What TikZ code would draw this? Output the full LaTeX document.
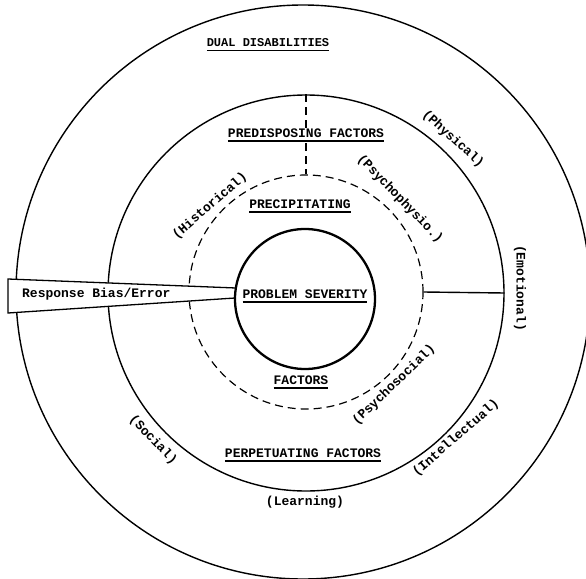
\documentclass[tikz,border=0pt]{standalone}
\usepackage{fontspec}
\setmonofont{Liberation Mono}
\newcommand\ulx[1]{\setbox0=\hbox{#1}\copy0\llap{\rule[-4.5pt]{\wd0}{1.6pt}}}
\tikzset{
  lbl/.style={font=\ttfamily\bfseries\fontsize{13}{15}\selectfont, inner sep=1pt},
  head/.style={lbl, anchor=base},
  ring/.style={circle, draw, line width=1.4pt, inner sep=0pt},
  dring/.style={circle, draw, line width=1.2pt, inner sep=0pt, dash pattern=on 8pt off 5pt},
}
\begin{document}
\begin{tikzpicture}[x=1pt,y=1pt]
\useasboundingbox (0,0) rectangle (586,-578);
\clip (0,0) rectangle (586,-578);
% rings
\node[ring, minimum size=574pt] (outer) at (303,-292) {};
\node[ring, minimum size=396pt] (mid) at (306,-293) {};
\node[dring, minimum size=234pt] (dash) at (306,-292) {};
% labels
\node[head, font=\ttfamily\bfseries\fontsize{12}{14}\selectfont] (dual) at (268,-47) {\ulx{DUAL DISABILITIES}};
\node[head] (pred) at (306,-137.5) {\ulx{PREDISPOSING FACTORS}};
\node[head] (prec) at (300,-208.5) {\ulx{PRECIPITATING}};
\node[head] (fact) at (301,-384.5) {\ulx{FACTORS}};
\node[head] (perp) at (303,-457.5) {\ulx{PERPETUATING FACTORS}};
\node[lbl] (learn) at (305,-502) {(Learning)};
\node[lbl, rotate=-42] (phys) at (453,-139) {(Physical)};
\node[lbl, rotate=-46] (psyph) at (400,-199) {(Psychophysio.)};
\node[lbl, rotate=41] (hist) at (210,-206) {(Historical)};
\node[lbl, rotate=-90] (emot) at (520,-288) {(Emotional)};
\node[lbl, rotate=44] (psysoc) at (394,-385) {(Psychosocial)};
\node[lbl, rotate=41] (intel) at (456,-438) {(Intellectual)};
\node[lbl, rotate=-46] (social) at (153,-440) {(Social)};
% connectors
\draw[line width=1.2pt, dash pattern=on 8pt off 5pt] (mid.north) -- (pred.north);
\draw[line width=1.2pt, dash pattern=on 8pt off 5pt] (pred.south) -- (dash.north);
\draw[line width=1.4pt] (dash.east) -- (mid.east);
% wedge
\coordinate (wtl) at (8,-279);
\coordinate (wbl) at (8,-313);
\coordinate (wtr) at (236,-288);
\coordinate (wbr) at (235,-298);
\fill[white] (wtl) -- (wtr) -- (wbr) -- (wbl) -- cycle;
\draw[line width=1.3pt] (wtr) -- (wtl) -- (wbl) -- (wbr);
\node[lbl, anchor=west] (resp) at (21,-294) {Response Bias/Error};
% inner circle
\node[circle, draw, line width=2.3pt, inner sep=0pt, minimum size=140pt] (inner) at (305,-299) {};
\node[head] (prob) at (305,-298.5) {\ulx{PROBLEM SEVERITY}};
\end{tikzpicture}
\end{document}
